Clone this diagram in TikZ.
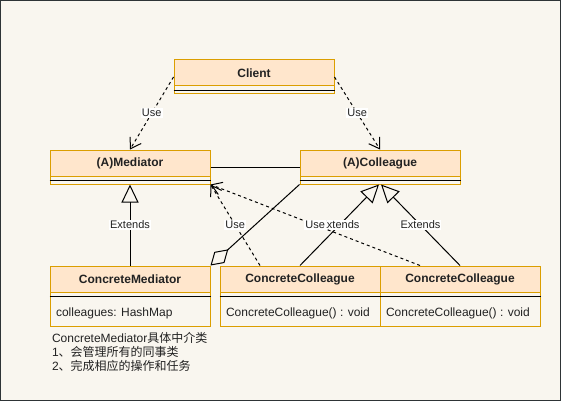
\documentclass[tikz,border=0pt]{standalone}
\usepackage{fontspec}
\setmainfont{Liberation Sans}
\newfontfamily\cjk{Noto Sans CJK SC}
\usepackage{tikz}
\usetikzlibrary{arrows.meta}
\definecolor{paper}{HTML}{F9F6EF}
\definecolor{frame}{HTML}{2E3436}
\definecolor{headfill}{HTML}{FFE6CC}
\definecolor{boxline}{HTML}{DB9E00}
\definecolor{ink}{HTML}{222222}
\tikzstyle{classbox}=[draw=boxline,minimum width=160pt,inner sep=0pt]
\tikzstyle{classhead}=[draw=boxline,fill=headfill,minimum width=160pt,minimum height=26pt,inner sep=0pt,text=ink,font=\fontsize{12}{14}\selectfont\bfseries]
\tikzstyle{member}=[inner sep=0pt,text=ink,font=\fontsize{12}{14}\selectfont]
\tikzstyle{lbl}=[fill=white,inner sep=1pt,text=ink,font=\fontsize{11}{13}\selectfont]
\tikzstyle{uses}=[dash pattern=on 3pt off 3pt,-{Straight Barb[length=10pt,width=13pt]}]
\tikzstyle{extends}=[-{Triangle[open,length=18pt,width=17pt]}]
\tikzstyle{aggr}=[-{Diamond[open,length=24pt,width=15pt]}]

\begin{document}
\begin{tikzpicture}[x=1pt,y=-1pt,line width=1pt]
    \useasboundingbox (0,0) rectangle (561,401);
    \draw [frame,fill=paper] (0.5,0.5) rectangle (560.5,400.5);
    % classes
    \node [classbox,minimum height=34pt] (client) at (254,77) {};
    \node [classhead,anchor=north] (client-h) at (client.north) {Client};
    \node [classbox,minimum height=34pt] (mediator) at (130,167) {};
    \node [classhead,anchor=north] (mediator-h) at (mediator.north) {(A)Mediator};
    \node [classbox,minimum height=34pt] (colleague) at (380,167) {};
    \node [classhead,anchor=north] (colleague-h) at (colleague.north) {(A)Colleague};
    \node [classbox,minimum height=60pt] (cmed) at (130,296) {};
    \node [classhead,anchor=north] (cmed-h) at (cmed.north) {ConcreteMediator};
    \node [classbox,minimum height=60pt] (cc1) at (300,296) {};
    \node [classhead,anchor=north] (cc1-h) at (cc1.north) {ConcreteColleague};
    \node [classbox,minimum height=60pt] (cc2) at (460,296) {};
    \node [classhead,anchor=north] (cc2-h) at (cc2.north) {ConcreteColleague};
    \foreach \c in {client-h,mediator-h,colleague-h,cmed-h,cc1-h,cc2-h}
        \draw ([yshift=-4pt]\c.south west) -- ([yshift=-4pt]\c.south east);
    \node [member,anchor=west] (cmed-a) at ([xshift=6pt,yshift=13pt]cmed.south west) {colleagues: HashMap};
    \node [member,anchor=west] (cc1-a) at ([xshift=6pt,yshift=13pt]cc1.south west) {ConcreteColleague() : void};
    \node [member,anchor=west] (cc2-a) at ([xshift=6pt,yshift=13pt]cc2.south west) {ConcreteColleague() : void};
    \node [member,anchor=north west,align=left] (note) at ([xshift=2pt,yshift=-5.5pt]cmed.south west)
        {ConcreteMediator{\cjk 具体中介类}\\1{\cjk 、会管理所有的同事类}\\2{\cjk 、完成相应的操作和任务}};
    % connectors
    \draw [uses] (client.west) -- node [lbl] {Use} (mediator.north);
    \draw [uses] (client.east) -- node [lbl] {Use} (colleague.north);
    \draw (mediator.east) -- (colleague.west);
    \draw [extends] (cmed.north) -- node [lbl] {Extends} (mediator.south);
    \draw [extends] (cc1.north) -- node [lbl] {Extends} ([xshift=-1pt]colleague.south);
    \draw [extends] (cc2.north) -- node [lbl] {Extends} ([xshift=1pt]colleague.south);
    \draw [uses] ([xshift=-40pt]cc1.north) -- node [lbl] {Use} (mediator.south east);
    \draw [uses] ([xshift=-40pt]cc2.north) -- node [lbl] {Use} (mediator.south east);
    \draw [aggr] (colleague.south west) -- (cmed.north east);
\end{tikzpicture}
\end{document}
